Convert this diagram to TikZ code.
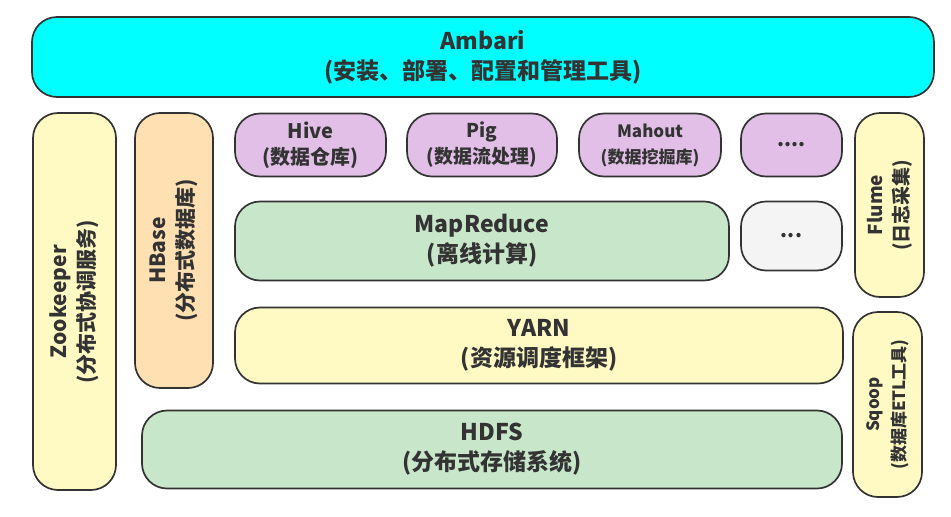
\documentclass[tikz,border=0pt]{standalone}
\usepackage{fontspec}
\setmainfont{Noto Sans CJK SC}
\usepackage{tikz}
\usetikzlibrary{positioning}

\definecolor{ambcyan}{HTML}{00FFFF}
\definecolor{toolpurple}{HTML}{E1BFE7}
\definecolor{mrgreen}{HTML}{C8E6C9}
\definecolor{softyellow}{HTML}{FFF9C4}
\definecolor{hbpeach}{HTML}{FFE0B2}
\definecolor{dotgray}{HTML}{F4F4F4}
\definecolor{edgegray}{HTML}{333333}

\begin{document}
\begin{tikzpicture}[x=1pt,y=-1pt,
    blk/.style={draw=edgegray,line width=1.7pt,rounded corners=25pt,align=center,
        text=edgegray,font=\bfseries\fontsize{23}{30}\selectfont,inner sep=0pt},
    small/.style={font=\bfseries\fontsize{#1}{26}\selectfont}]
        \useasboundingbox (0,0) rectangle (951,517);
        \node[blk,fill=ambcyan,minimum width=902pt,minimum height=80pt] (ambari) at (483,57) {Ambari\\(安装、部署、配置和管理工具)};
        \node[blk,fill=softyellow,rotate=90,minimum width=377pt,minimum height=83pt,font=\bfseries\fontsize{21}{28}\selectfont] (zk) at (74.5,301.5) {Zookeeper\\(分布式协调服务)};
        \node[blk,fill=hbpeach,rotate=90,minimum width=275pt,minimum height=78pt,font=\bfseries\fontsize{21}{28}\selectfont] (hbase) at (174,250.5) {HBase\\(分布式数据库)};
        \node[blk,small=20,fill=toolpurple,minimum width=151pt,minimum height=63pt] (hive) at (310.5,145) {Hive\\(数据仓库)};
        \node[blk,small=19,fill=toolpurple,minimum width=150pt,minimum height=63pt] (pig) at (482,145) {Pig\\(数据流处理)};
        \node[blk,small=17,fill=toolpurple,minimum width=142pt,minimum height=63pt] (mahout) at (650,145) {Mahout\\(数据挖掘库)};
        \node[blk,small=20,fill=toolpurple,minimum width=101pt,minimum height=63pt] (more) at (791.5,145) {....};
        \node[blk,fill=mrgreen,minimum width=494pt,minimum height=79pt] (mr) at (482,241) {MapReduce\\(离线计算)};
        \node[blk,small=20,fill=dotgray,minimum width=101pt,minimum height=69pt] (etc) at (791.5,236) {...};
        \node[blk,fill=softyellow,minimum width=608pt,minimum height=76pt] (yarn) at (539,345.5) {YARN\\(资源调度框架)};
        \node[blk,fill=mrgreen,minimum width=700pt,minimum height=78pt] (hdfs) at (492,449.5) {HDFS\\(分布式存储系统)};
        \node[blk,small=19,fill=softyellow,rotate=90,minimum width=184pt,minimum height=69pt] (flume) at (889.5,205) {Flume\\(日志采集)};
        \node[blk,small=17,fill=softyellow,rotate=90,minimum width=185pt,minimum height=69pt] (sqoop) at (887.5,404.5) {Sqoop\\(数据库ETL工具)};
    \end{tikzpicture}
\end{document}
